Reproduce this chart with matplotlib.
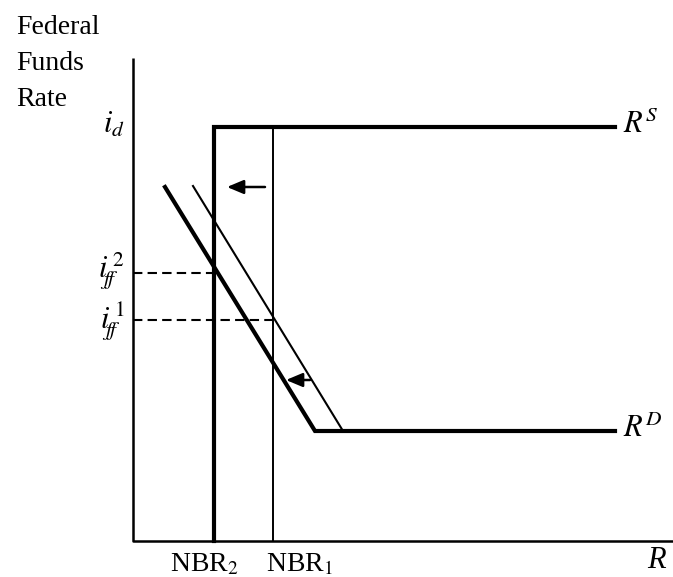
import numpy as np
import matplotlib.pyplot as plt

plt.rcParams['font.family'] = ['Liberation Serif', 'DejaVu Serif']
plt.rcParams['mathtext.fontset'] = 'stix'

# reserves (x) / federal funds rate (y), origin at the axes corner
nbr1 = 140
nbr2 = 81
i_d = 414
i_ff1 = 221
i_ff2 = 268
floor_rate = 110
x_end = 482

# demand curves: sloped part start / kink
demand_new_x = [32, 182, x_end]
demand_new_y = [354, floor_rate, floor_rate]
demand_old_x = [60, 210]
demand_old_y = [355, floor_rate]

# shift arrows (start x, end x, y)
arrow_top = (132, 94, 354)
arrow_low = (177, 153, 161)

fig = plt.figure(figsize=(6.73, 5.77), dpi=100)
ax = fig.add_axes([0, 0, 1, 1])
ax.set_xlim(-133, 540)
ax.set_ylim(-36, 541)
ax.axis('off')

# axes
ax.plot([0, 0, 545], [483, 0, 0], color='black', lw=1.8, solid_capstyle='butt')

# supply R^S
ax.plot([nbr2, nbr2, x_end], [0, i_d, i_d], color='black', lw=3, solid_joinstyle='miter')
ax.plot([nbr1, nbr1], [0, i_d], color='black', lw=1.4)

# demand
ax.plot(demand_new_x, demand_new_y, color='black', lw=3, solid_joinstyle='miter')
ax.plot(demand_old_x, demand_old_y, color='black', lw=1.5)

# dashed rate lines
ax.plot([0, nbr2], [i_ff2, i_ff2], color='black', lw=1.5, ls=(0, (4.5, 2.5)))
ax.plot([0, nbr1], [i_ff1, i_ff1], color='black', lw=1.5, ls=(0, (4.5, 2.5)))

for x0, x1, y in [arrow_top, arrow_low]:
    ax.annotate('', xy=(x1, y), xytext=(x0, y),
                arrowprops=dict(arrowstyle='-|>,head_length=1.0,head_width=0.42',
                                color='black', lw=1.8, shrinkA=0, shrinkB=0))

fs = 20
ms = 22
ax.text(-117, 514, 'Federal', fontsize=fs, va='center', ha='left')
ax.text(-117, 478, 'Funds', fontsize=fs, va='center', ha='left')
ax.text(-117, 442, 'Rate', fontsize=fs, va='center', ha='left')

ax.text(-8, i_d + 2, r'$i_d$', fontsize=ms, va='center', ha='right')
ax.text(-8, i_ff2 + 2, r'$i_{\!f\!f}^{\,2}$', fontsize=ms, va='center', ha='right')
ax.text(-8, i_ff1 - 2, r'$i_{\!f\!f}^{\,1}$', fontsize=ms, va='center', ha='right')

ax.text(490, i_d + 2, r'$R^S$', fontsize=ms, va='center', ha='left')
ax.text(490, floor_rate + 2, r'$R^D$', fontsize=ms, va='center', ha='left')

ax.text(nbr2 - 10, -24, r'NBR$_2$', fontsize=fs, va='center', ha='center')
ax.text(nbr1 + 27, -24, r'NBR$_1$', fontsize=fs, va='center', ha='center')
ax.text(514, -20, 'R', fontsize=ms, fontstyle='italic', va='center', ha='left')

fig.savefig('out.png', dpi=100)
